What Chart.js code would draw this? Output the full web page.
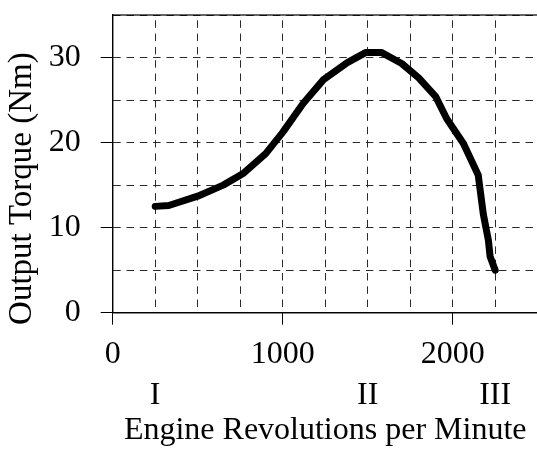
<!DOCTYPE html>
<html>
<head>
<meta charset="utf-8">
<script src="https://cdn.jsdelivr.net/npm/chart.js@4/dist/chart.umd.min.js"></script>
<style>
  html, body { margin: 0; padding: 0; background: #fff; overflow: hidden; }
  #wrap { width: 540px; height: 451px; }
</style>
</head>
<body>
<div id="wrap"><canvas id="torque" width="540" height="451"></canvas></div>
<script>
// engine speed (rpm) and output torque (Nm)
const rpm    = [250, 330, 500, 650, 770, 900, 1000, 1120, 1240, 1380, 1490, 1580, 1700, 1800, 1900, 1965, 2063, 2150, 2180, 2210, 2220, 2250];
const torque = [12.5, 12.6, 13.7, 15.0, 16.4, 18.7, 21.2, 24.6, 27.4, 29.4, 30.6, 30.6, 29.3, 27.6, 25.4, 22.8, 19.9, 16.2, 11.6, 8.5, 6.6, 5.0];

const xLabelValues = [0, 1000, 2000];
const yLabelValues = [0, 10, 20, 30];
const gearAt     = [250, 1500, 2250];
const gearLabels = ['I', 'II', 'III'];

const serif = 'Liberation Serif';
const fontBig = { family: serif, size: 32 };

// full box around the plot area
const frame = {
    id: 'frame',
    beforeDatasetsDraw(chart) {
        const a = chart.chartArea, ctx = chart.ctx;
        ctx.save();
        ctx.strokeStyle = '#000';
        ctx.lineWidth = 1.2;
        ctx.strokeRect(a.left, a.top, a.right - a.left, a.bottom - a.top);
        ctx.restore();
    }
};

// no extra room for the edge labels, the plot box is fixed by layout padding
const noEdgePad = s => { s.paddingTop = 0; s.paddingBottom = 0; s.paddingLeft = 0; s.paddingRight = 0; };

const config = {
    type: 'line',
    data: {
        datasets: [{
            data: rpm.map((r, i) => ({ x: r, y: torque[i] })),
            borderColor: '#000',
            borderWidth: 7,
            borderCapStyle: 'round',
            borderJoinStyle: 'round',
            pointRadius: 0,
            fill: false,
            tension: 0
        }]
    },
    options: {
        responsive: false,
        animation: false,
        layout: { padding: { top: 15, right: 2.3, left: 0, bottom: 0 } },
        plugins: { legend: { display: false }, tooltip: { enabled: false } },
        scales: {
            x: {
                type: 'linear',
                position: 'bottom',
                weight: 0,
                min: 0, max: 2500,
                afterBuildTicks: s => { s.ticks = []; for (let v = 0; v <= 2500; v += 250) s.ticks.push({ value: v }); },
                afterFit: s => { s.height = 60; noEdgePad(s); },
                ticks: {
                    autoSkip: false, maxRotation: 0,
                    color: '#000', font: fontBig, padding: 11,
                    callback: v => xLabelValues.includes(v) ? String(v) : ''
                },
                grid: {
                    color: '#2a2a2a', lineWidth: 1,
                    tickLength: 12, tickBorderDash: [],
                    tickColor: c => (c.tick && xLabelValues.includes(c.tick.value)) ? '#000' : 'rgba(0,0,0,0)'
                },
                border: { display: true, color: '#000', width: 1.2, dash: [7.5, 5.8], dashOffset: 8 }
            },
            x2: {
                type: 'linear',
                position: 'bottom',
                weight: 1,
                min: 0, max: 2500,
                afterBuildTicks: s => { s.ticks = gearAt.map(v => ({ value: v })); },
                afterFit: s => { s.height = 78.3; noEdgePad(s); },
                ticks: {
                    autoSkip: false, maxRotation: 0,
                    color: '#000', font: fontBig, padding: 4,
                    callback: v => gearLabels[gearAt.indexOf(v)]
                },
                grid: { display: false, drawTicks: false },
                border: { display: false },
                title: {
                    display: true, text: 'Engine Revolutions per Minute',
                    color: '#000', font: fontBig, padding: { top: 0, bottom: 1 }
                }
            },
            y: {
                min: 0, max: 35,
                afterBuildTicks: s => { s.ticks = []; for (let v = 0; v <= 35; v += 5) s.ticks.push({ value: v }); },
                afterFit: s => { s.width = 112.7; noEdgePad(s); },
                ticks: {
                    color: '#000', font: fontBig, padding: 20,
                    callback: v => yLabelValues.includes(v) ? String(v) : ''
                },
                grid: {
                    color: '#2a2a2a', lineWidth: 1,
                    tickLength: 12, tickBorderDash: [],
                    tickColor: c => (c.tick && yLabelValues.includes(c.tick.value)) ? '#000' : 'rgba(0,0,0,0)'
                },
                border: { display: true, color: '#000', width: 1.2, dash: [7.5, 5.8] },
                title: {
                    display: true, text: 'Output Torque (Nm)\u2002\u2002\u2002',
                    color: '#000', font: { family: serif, size: 33 }, padding: { top: 3, bottom: 0 }
                }
            }
        }
    },
    plugins: [frame]
};

const chartTorque = new Chart(document.getElementById('torque'), config);
</script>
</body>
</html>
